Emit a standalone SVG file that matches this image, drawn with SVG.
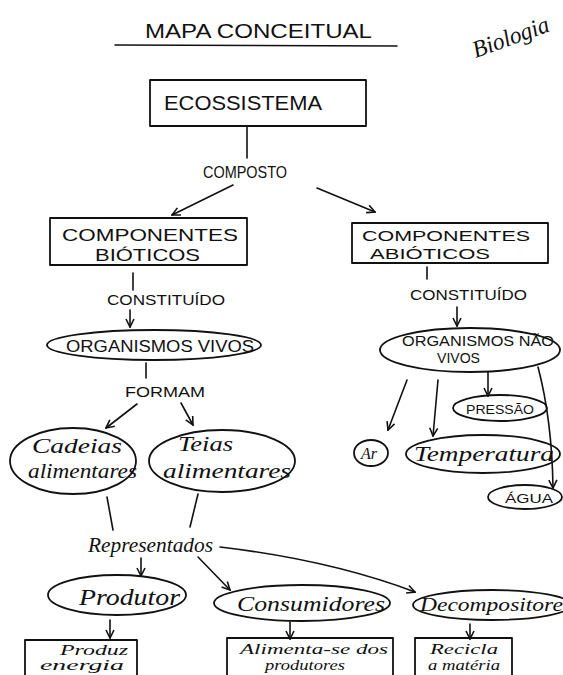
<svg xmlns="http://www.w3.org/2000/svg" width="563" height="675" viewBox="0 0 563 675">
<style>
.shape{fill:none;stroke:#111;stroke-width:1.8;stroke-linejoin:round}
.edge{fill:none;stroke:#111;stroke-width:1.6;stroke-linecap:round}
.arrow{marker-end:url(#ah)}
.cap{font-family:"Liberation Sans",Arial,sans-serif;fill:#111}
.scr{font-family:"Liberation Serif","Times New Roman",serif;font-style:italic;fill:#111}
</style>
<defs>
<marker id="ah" viewBox="0 0 10 10" refX="9" refY="5" markerWidth="10" markerHeight="10" markerUnits="userSpaceOnUse" orient="auto">
<path d="M1,1 L9,5 L1,9" fill="none" stroke="#111" stroke-width="1.6"/>
</marker>
</defs>
<rect width="563" height="675" fill="#fff"/>
<g id="title">
<text class="cap" x="145" y="38" font-size="20" textLength="227" lengthAdjust="spacingAndGlyphs">MAPA CONCEITUAL</text>
<path class="edge" d="M115,45 L397,46"/>
</g>
<g id="biologia">
<text class="scr" x="470" y="45" font-size="24" textLength="80" lengthAdjust="spacingAndGlyphs" transform="rotate(-20 510 35)">Biologia</text>
</g>
<g id="connectors">
<path class="edge" d="M247,126 L247,158"/>
<path class="edge arrow" d="M233,185 L172,215"/>
<path class="edge arrow" d="M317,188 L375,212"/>
<path class="edge" d="M133,273 L133,290"/>
<path class="edge arrow" d="M130,310 L130,327"/>
<path class="edge" d="M146,363 L146,378"/>
<path class="edge arrow" d="M137,404 L106,428"/>
<path class="edge arrow" d="M181,403 L193,425"/>
<path class="edge" d="M107,497 L113,530"/>
<path class="edge" d="M198,494 L190,527"/>
<path class="edge arrow" d="M141,558 L141,576"/>
<path class="edge arrow" d="M198,557 L230,590"/>
<path class="edge arrow" d="M220,547 Q330,560 415,592"/>
<path class="edge arrow" d="M110,620 L110,638"/>
<path class="edge arrow" d="M290,622 L290,639"/>
<path class="edge arrow" d="M470,624 L470,639"/>
<path class="edge" d="M427,267 L427,279"/>
<path class="edge arrow" d="M457,307 L457,326"/>
<path class="edge arrow" d="M407,380 L388,430"/>
<path class="edge arrow" d="M438,380 L433,436"/>
<path class="edge arrow" d="M488,372 L488,396"/>
<path class="edge arrow" d="M538,367 Q552,420 553,488"/>
</g>
<g id="ecossistema">
<rect class="shape" x="150" y="80" width="216" height="46"/>
<text class="cap" x="164" y="110" font-size="20" textLength="158" lengthAdjust="spacingAndGlyphs">ECOSSISTEMA</text>
</g>
<g id="composto">
<text class="cap" x="203" y="178" font-size="17" textLength="84" lengthAdjust="spacingAndGlyphs">COMPOSTO</text>
</g>
<g id="bioticos">
<rect class="shape" x="50" y="218" width="197" height="47"/>
<text class="cap" x="62" y="241" font-size="17" textLength="176" lengthAdjust="spacingAndGlyphs">COMPONENTES</text>
<text class="cap" x="95" y="261" font-size="17" textLength="105" lengthAdjust="spacingAndGlyphs">BIÓTICOS</text>
</g>
<g id="constituido1">
<text class="cap" x="107" y="305" font-size="15" textLength="118" lengthAdjust="spacingAndGlyphs">CONSTITUÍDO</text>
</g>
<g id="vivos">
<ellipse class="shape" cx="154" cy="345" rx="107" ry="15"/>
<text class="cap" x="66" y="352" font-size="16" textLength="188" lengthAdjust="spacingAndGlyphs">ORGANISMOS VIVOS</text>
</g>
<g id="formam">
<text class="cap" x="125" y="397" font-size="15" textLength="80" lengthAdjust="spacingAndGlyphs">FORMAM</text>
</g>
<g id="cadeias">
<ellipse class="shape" cx="73" cy="461" rx="63" ry="33"/>
<text class="scr" x="32" y="453" font-size="22" textLength="90" lengthAdjust="spacingAndGlyphs">Cadeias</text>
<text class="scr" x="28" y="478" font-size="22" textLength="109" lengthAdjust="spacingAndGlyphs">alimentares</text>
</g>
<g id="teias">
<ellipse class="shape" cx="222" cy="461" rx="73" ry="31"/>
<text class="scr" x="178" y="451" font-size="22" textLength="55" lengthAdjust="spacingAndGlyphs">Teias</text>
<text class="scr" x="163" y="478" font-size="22" textLength="128" lengthAdjust="spacingAndGlyphs">alimentares</text>
</g>
<g id="representados">
<text class="scr" x="88" y="552" font-size="20" textLength="125" lengthAdjust="spacingAndGlyphs">Representados</text>
</g>
<g id="produtor">
<ellipse class="shape" cx="117" cy="595" rx="69" ry="20"/>
<text class="scr" x="79" y="605" font-size="24" textLength="101" lengthAdjust="spacingAndGlyphs">Produtor</text>
</g>
<g id="consumidores">
<ellipse class="shape" cx="302" cy="603" rx="88" ry="18"/>
<text class="scr" x="237" y="611" font-size="22" textLength="148" lengthAdjust="spacingAndGlyphs">Consumidores</text>
</g>
<g id="decompositores">
<ellipse class="shape" cx="492" cy="605" rx="79" ry="15"/>
<text class="scr" x="420" y="611" font-size="18" textLength="152" lengthAdjust="spacingAndGlyphs">Decompositores</text>
</g>
<g id="produz">
<rect class="shape" x="25" y="640" width="112" height="50"/>
<text class="scr" x="60" y="655" font-size="15" textLength="68" lengthAdjust="spacingAndGlyphs">Produz</text>
<text class="scr" x="40" y="670" font-size="15" textLength="84" lengthAdjust="spacingAndGlyphs">energia</text>
</g>
<g id="alimenta">
<rect class="shape" x="227" y="638" width="166" height="50"/>
<text class="scr" x="240" y="654" font-size="15" textLength="148" lengthAdjust="spacingAndGlyphs">Alimenta-se dos</text>
<text class="scr" x="265" y="670" font-size="15" textLength="80" lengthAdjust="spacingAndGlyphs">produtores</text>
</g>
<g id="recicla">
<rect class="shape" x="415" y="638" width="97" height="50"/>
<text class="scr" x="430" y="654" font-size="15" textLength="68" lengthAdjust="spacingAndGlyphs">Recicla</text>
<text class="scr" x="428" y="670" font-size="15" textLength="72" lengthAdjust="spacingAndGlyphs">a matéria</text>
</g>
<g id="abioticos">
<rect class="shape" x="352" y="223" width="196" height="40"/>
<text class="cap" x="362" y="241" font-size="15" textLength="168" lengthAdjust="spacingAndGlyphs">COMPONENTES</text>
<text class="cap" x="370" y="259" font-size="15" textLength="120" lengthAdjust="spacingAndGlyphs">ABIÓTICOS</text>
</g>
<g id="constituido2">
<text class="cap" x="410" y="300" font-size="15" textLength="117" lengthAdjust="spacingAndGlyphs">CONSTITUÍDO</text>
</g>
<g id="naovivos">
<ellipse class="shape" cx="470" cy="350" rx="90" ry="22"/>
<text class="cap" x="402" y="346" font-size="14" textLength="152" lengthAdjust="spacingAndGlyphs">ORGANISMOS NÃO</text>
<text class="cap" x="437" y="363" font-size="14" textLength="43" lengthAdjust="spacingAndGlyphs">VIVOS</text>
</g>
<g id="pressao">
<ellipse class="shape" cx="500" cy="408" rx="47" ry="13"/>
<text class="cap" x="466" y="414" font-size="13" textLength="68" lengthAdjust="spacingAndGlyphs">PRESSÃO</text>
</g>
<g id="ar">
<ellipse class="shape" cx="371" cy="453" rx="17" ry="13"/>
<text class="scr" x="361" y="459" font-size="16">Ar</text>
</g>
<g id="temperatura">
<ellipse class="shape" cx="483" cy="454" rx="77" ry="19"/>
<text class="scr" x="414" y="461" font-size="20" textLength="140" lengthAdjust="spacingAndGlyphs">Temperatura</text>
</g>
<g id="agua">
<ellipse class="shape" cx="525" cy="497" rx="37" ry="12"/>
<text class="cap" x="505" y="503" font-size="13" textLength="48" lengthAdjust="spacingAndGlyphs">ÁGUA</text>
</g>
</svg>
